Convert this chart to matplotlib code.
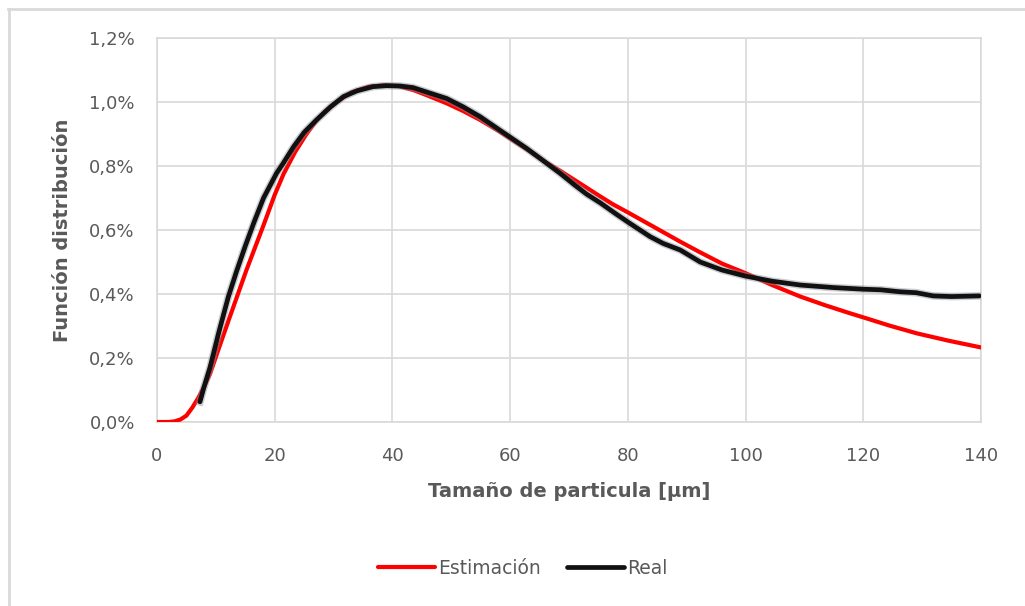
import matplotlib
matplotlib.use("Agg")
import matplotlib.pyplot as plt
from matplotlib.ticker import FuncFormatter
from matplotlib.lines import Line2D

# Data (percent values)
est_x = [0, 2, 3, 4, 5, 6, 7, 8, 9, 10.5, 12.4, 15.2, 18.1, 20, 21.5, 23.5, 25.4, 27, 28.5,
         30.5, 33, 36, 38.5, 41, 43.6, 46, 49.2, 52, 54.9, 58, 60.5, 63, 66.2, 68.5, 71.9,
         75.3, 77.5, 80, 83.8, 88.9, 92.3, 96, 100, 104.5, 109.3, 113.5, 117.7, 120, 124.5,
         129.1, 134.5, 140]
est_y = [0, 0, 0.002, 0.008, 0.02, 0.045, 0.075, 0.11, 0.15, 0.23, 0.33, 0.475, 0.615, 0.71,
         0.775, 0.845, 0.9, 0.94, 0.97, 1.0, 1.03, 1.048, 1.052, 1.05, 1.037, 1.02, 0.996,
         0.972, 0.944, 0.91, 0.88, 0.85, 0.81, 0.785, 0.745, 0.705, 0.68, 0.655, 0.616, 0.5635,
         0.53, 0.495, 0.465, 0.428, 0.392, 0.365, 0.34, 0.327, 0.301, 0.277, 0.254, 0.233]

real_x = [7.3, 8, 9, 10.5, 12.1, 13.5, 15, 16.5, 18.1, 20.3, 21.5, 23.2, 25, 27.1, 29.5, 31.7,
          34, 36.7, 39, 41.3, 43.5, 46, 49.2, 52, 54.9, 58, 60, 62.8, 65, 68.5, 71, 73, 75.3,
          78, 80.4, 83.8, 86, 88.9, 92.3, 96, 100, 104.5, 109.3, 115, 120, 123, 126.2, 129,
          131.9, 135, 139.7]
real_y = [0.063, 0.11, 0.17, 0.28, 0.39, 0.47, 0.55, 0.625, 0.70, 0.777, 0.81, 0.86, 0.905,
          0.944, 0.985, 1.017, 1.035, 1.048, 1.051, 1.05, 1.045, 1.03, 1.011, 0.985, 0.954,
          0.915, 0.89, 0.855, 0.825, 0.777, 0.74, 0.712, 0.685, 0.65, 0.62, 0.579, 0.558,
          0.5375, 0.50, 0.475, 0.456, 0.44, 0.428, 0.42, 0.415, 0.413, 0.407, 0.404, 0.394,
          0.392, 0.394]

x_ticks = [0, 20, 40, 60, 80, 100, 120, 140]
y_ticks = [0.0, 0.2, 0.4, 0.6, 0.8, 1.0, 1.2]

plt.rcParams['font.family'] = ['DejaVu Sans']

fig = plt.figure(figsize=(10.25, 6.06), dpi=100)
ax = fig.add_axes([157/1025, 1-422/606, (981-157)/1025, (422-38)/606])

grid_c = '#d9d9d9'
txt_c = '#595959'
ax.set_xlim(0, 140)
ax.set_ylim(0, 1.2)
ax.set_xticks(x_ticks)
ax.set_yticks(y_ticks)
ax.grid(True, color=grid_c, linewidth=1.2)
ax.set_axisbelow(True)
for s in ax.spines.values():
    s.set_color(grid_c)
    s.set_linewidth(1.2)
ax.tick_params(length=0, colors=txt_c, labelsize=13)
ax.tick_params(axis='x', pad=18)
ax.tick_params(axis='y', pad=16)
ax.yaxis.set_major_formatter(FuncFormatter(lambda v, p: f"{v:.1f}%".replace('.', ',')))

ax.plot(est_x, est_y, color='#ff0000', linewidth=3.0, solid_capstyle='round', zorder=3,
        label='Estimación')
ax.plot(real_x, real_y, color='#8a929c', linewidth=5.5, alpha=0.45, zorder=4)
ax.plot(real_x, real_y, color='#111111', linewidth=3.4, solid_capstyle='round', zorder=5,
        label='Real')

ax.set_xlabel('Tamaño de particula [µm]', fontsize=14, fontweight='bold', color=txt_c,
              labelpad=12)
ax.set_ylabel('Función distribución', fontsize=14, fontweight='bold', color=txt_c,
              labelpad=12)

leg = fig.legend(loc='center', bbox_to_anchor=(523/1025, 1-568/606), ncol=2, frameon=False,
                 fontsize=13.5, handlelength=3.0, handletextpad=0.2, columnspacing=1.4)
for t in leg.get_texts():
    t.set_color(txt_c)

# outer chart border (top and left only visible)
fig.add_artist(Line2D([8/1025, 1], [1-8.5/606, 1-8.5/606], color=grid_c, linewidth=2,
                      transform=fig.transFigure))
fig.add_artist(Line2D([9/1025, 9/1025], [0, 1-8.5/606], color=grid_c, linewidth=2,
                      transform=fig.transFigure))

fig.savefig('out.png', dpi=100)
